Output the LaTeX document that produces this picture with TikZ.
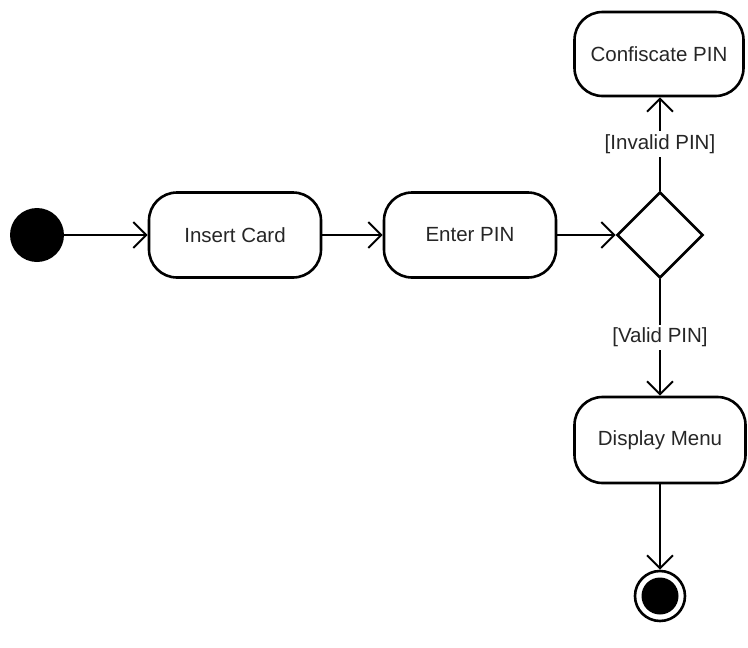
\documentclass[tikz,border=0pt]{standalone}
\usepackage{fontspec}
\setmainfont{Liberation Sans}
\usetikzlibrary{arrows.meta,shapes.geometric}
\begin{document}
\begin{tikzpicture}[x=1pt,y=-1pt,
  every node/.style={font=\fontsize{20.5}{24}\selectfont, text=black!85},
  act/.style={draw, line width=2.6pt, rounded corners=28pt, minimum width=172pt, minimum height=85pt, inner sep=0pt},
  conn/.style={line width=2.2pt, -{Straight Barb[length=13pt,width=26pt,line width=2pt]}},
  guard/.style={fill=white, inner sep=3pt}]
\useasboundingbox (0,0) rectangle (748,648);
\node[circle, fill=black, minimum size=54pt, inner sep=0pt] (start) at (37,235) {};
\node[act] (insert) at (235,235) {Insert Card};
\node[act] (enter) at (470,235) {Enter PIN};
\node[diamond, draw, line width=2.6pt, aspect=1, minimum size=86pt, inner sep=0pt] (dec) at (660,235) {};
\node[act, minimum width=169pt, minimum height=84pt] (conf) at (659,54) {Confiscate PIN};
\node[act, minimum width=171pt, minimum height=86pt] (menu) at (660,440) {Display Menu};
\node[circle, draw, line width=2.6pt, minimum size=50pt, inner sep=0pt] (end) at (660,596) {};
\node[circle, fill=black, minimum size=37pt, inner sep=0pt] (endin) at (end) {};
\draw[conn] (start) -- (insert);
\draw[conn] (insert) -- (enter);
\draw[conn] (enter) -- (dec);
\draw[conn] (dec.north) -- node[guard]{[Invalid PIN]} (conf.south -| dec.north);
\draw[conn] (dec.south) -- node[guard]{[Valid PIN]} (menu.north -| dec.south);
\draw[conn] (menu) -- (end);
\end{tikzpicture}
\end{document}
